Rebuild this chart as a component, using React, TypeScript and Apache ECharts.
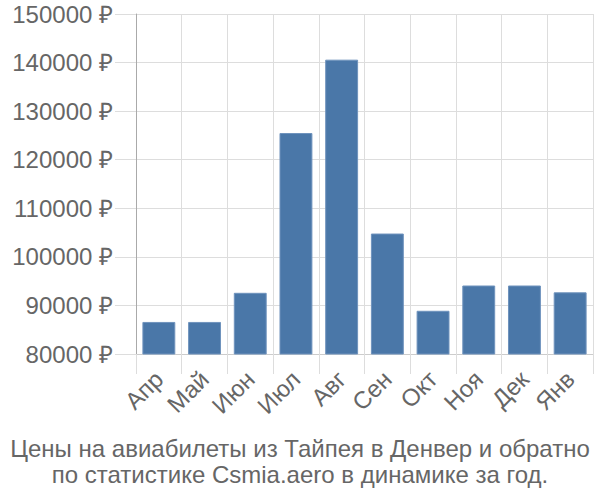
import React, { useEffect, useRef } from "react";
import * as echarts from "echarts";

const categories = ["Апр", "Май", "Июн", "Июл", "Авг", "Сен", "Окт", "Ноя", "Дек", "Янв"];
const prices = [86600, 86600, 92600, 125500, 140600, 104800, 88900, 94100, 94100, 92700];
const titleLines = [
  "Цены на авиабилеты из Тайпея в Денвер и обратно",
  "по статистике Csmia.aero в динамике за год.",
];
const yMin = 80000;
const yMax = 150000;
const yStep = 10000;

export default function App() {
  const ref = useRef<HTMLDivElement>(null);
  useEffect(() => {
    if (!ref.current) return;
    const chart = echarts.init(ref.current, null, { renderer: "svg" });
    chart.setOption({
      animation: false,
      textStyle: { fontFamily: "Liberation Sans, Arial, sans-serif" },
      title: {
        text: titleLines.join("\n"),
        left: "center",
        top: 430,
        textStyle: {
          fontSize: 24,
          fontWeight: "normal",
          color: "#666",
          lineHeight: 26,
          fontFamily: "Liberation Sans, Arial, sans-serif",
        },
      },
      grid: { left: 136, right: 7, top: 14, bottom: 146, containLabel: false },
      xAxis: {
        type: "category",
        data: categories,
        axisLine: { show: true, lineStyle: { color: "#ccc", width: 1 } },
        axisTick: { show: true, length: 20, alignWithLabel: false, lineStyle: { color: "#ddd" } },
        splitLine: { show: true, lineStyle: { color: "#ddd" } },
        axisLabel: { rotate: 45, fontSize: 24, color: "#666", margin: 21 },
      },
      yAxis: {
        type: "value",
        min: yMin,
        max: yMax,
        interval: yStep,
        axisLine: { show: true, lineStyle: { color: "#aaa", width: 1 } },
        axisTick: { show: true, length: 21, lineStyle: { color: "#ddd" } },
        splitLine: { show: true, lineStyle: { color: "#ddd" } },
        axisLabel: {
          fontSize: 24,
          color: "#666",
          margin: 23,
          formatter: (v: number) => `${v} ₽`,
        },
      },
      series: [
        {
          type: "bar",
          data: prices,
          barCategoryGap: "28%",
          itemStyle: { color: "#4a77a8", borderColor: "#6f93bd", borderWidth: 1 },
        },
      ],
    });
    return () => chart.dispose();
  }, []);
  return (
    <div
      ref={ref}
      style={{ position: "absolute", left: 0, top: 0, width: 600, height: 500 }}
    />
  );
}
